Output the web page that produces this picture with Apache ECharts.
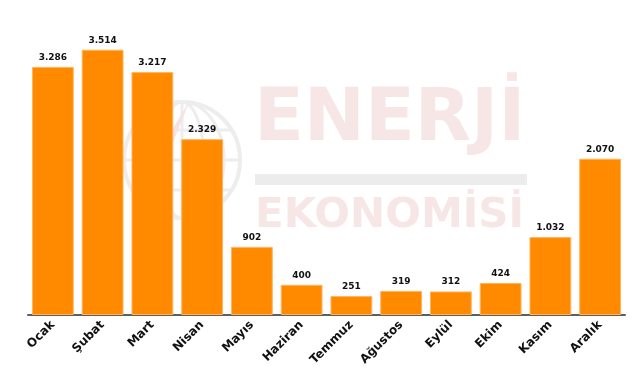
<!DOCTYPE html>
<html><head><meta charset="utf-8">
<script src="https://cdn.jsdelivr.net/npm/echarts@6/dist/echarts.min.js"></script>
<style>html,body{margin:0;padding:0;background:#fff}#c{width:641px;height:380px}</style>
</head><body><div id="c"></div>
<script>
const categories = ['Ocak','Şubat','Mart','Nisan','Mayıs','Haziran','Temmuz','Ağustos','Eylül','Ekim','Kasım','Aralık'];
const values = [3286,3514,3217,2329,902,400,251,319,312,424,1032,2070];

function fmt(v){ return String(v).replace(/\B(?=(\d{3})+(?!\d))/g,'.'); }

const chart = echarts.init(document.getElementById('c'), null, {renderer:'canvas'});
chart.setOption({
  backgroundColor:'#ffffff',
  animation:false,
  graphic:[
    {type:'group', z:-10, silent:true, children:[
      {type:'circle', shape:{cx:182,cy:160,r:58}, style:{fill:'none',stroke:'#ededed',lineWidth:4}},
      {type:'ellipse', shape:{cx:182,cy:160,rx:22,ry:58}, style:{fill:'none',stroke:'#ededed',lineWidth:3}},
      {type:'ellipse', shape:{cx:182,cy:160,rx:42,ry:58}, style:{fill:'none',stroke:'#ededed',lineWidth:3}},
      {type:'line', shape:{x1:124,y1:160,x2:240,y2:160}, style:{stroke:'#ededed',lineWidth:3}},
      {type:'line', shape:{x1:132,y1:130,x2:232,y2:130}, style:{stroke:'#ededed',lineWidth:3}},
      {type:'line', shape:{x1:132,y1:190,x2:232,y2:190}, style:{stroke:'#ededed',lineWidth:3}},
      {type:'line', shape:{x1:182,y1:102,x2:182,y2:218}, style:{stroke:'#ededed',lineWidth:3}},
      {type:'polygon', shape:{points:[[190,100],[160,150],[150,190],[170,150]]}, style:{fill:'#f7e2e2'}},
      {type:'text', x:254, y:158, style:{text:'ENERJİ', font:'bold 73px "DejaVu Sans"', fill:'#f7e6e6', textVerticalAlign:'bottom'}},
      {type:'rect', shape:{x:255,y:174,width:272,height:11}, style:{fill:'#ececec'}},
      {type:'text', x:255, y:237, scaleX:1.05, style:{text:'EKONOMİSİ', font:'bold 40px "DejaVu Sans"', fill:'#f7e6e6', textVerticalAlign:'bottom'}}
    ]}
  ],
  grid:{left:28, right:16, top:13, bottom:65, containLabel:false},
  xAxis:{
    type:'category', data:categories,
    axisLine:{lineStyle:{color:'#5a5f66',width:2}},
    axisTick:{alignWithLabel:true, length:6, lineStyle:{color:'#5a5f66'}},
    axisLabel:{rotate:45, interval:0, color:'#111', fontWeight:'bold', fontSize:12, fontFamily:'"DejaVu Sans"', margin:8}
  },
  yAxis:{type:'value', min:0, max:4000, show:false, splitLine:{show:false}},
  series:[{
    type:'bar', data:values, barCategoryGap:'16%',
    itemStyle:{color:'#ff8a00', borderColor:'#ffb45c', borderWidth:1},
    label:{show:true, position:'top', distance:5, color:'#111', fontWeight:'bold', fontSize:9, fontFamily:'"DejaVu Sans"', formatter:p=>fmt(p.value)}
  }]
});
</script></body></html>
